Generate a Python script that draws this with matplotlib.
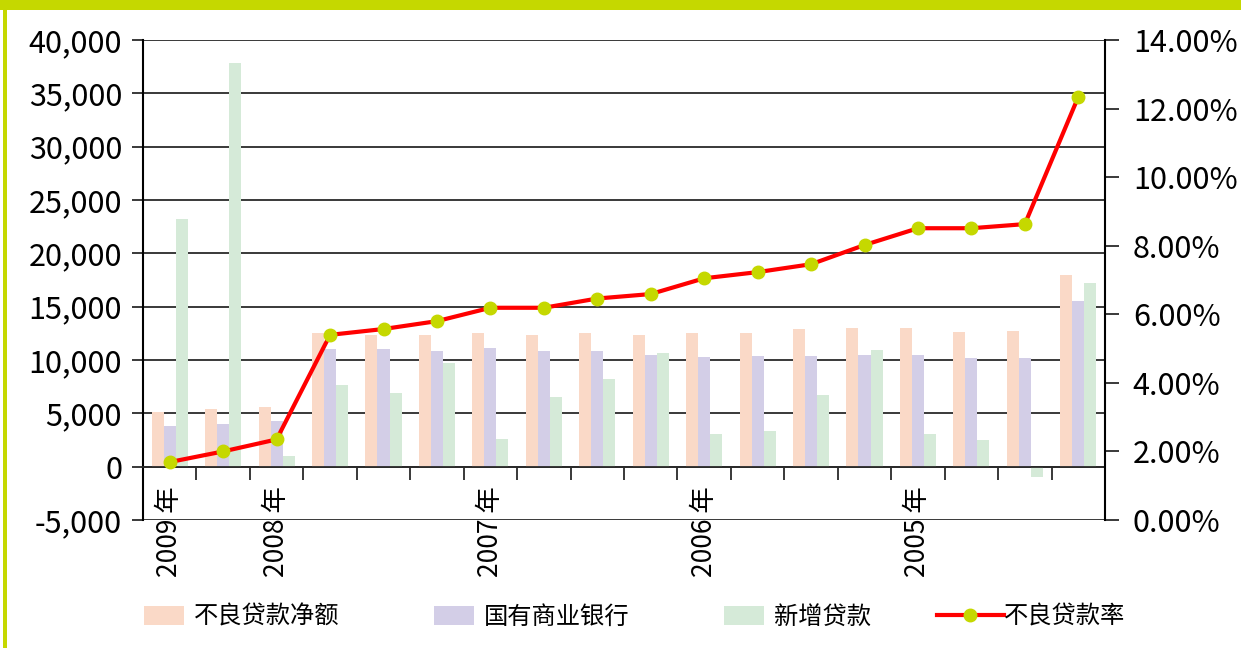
import numpy as np
import matplotlib
matplotlib.use('Agg')
import matplotlib.pyplot as plt
from matplotlib.patches import Rectangle, Patch
from matplotlib.lines import Line2D
from matplotlib.ticker import FuncFormatter, FixedLocator

plt.rcParams['font.family'] = ['Noto Sans CJK SC', 'DejaVu Sans']

# data
x_labels = ['2009 年', '', '2008 年', '', '', '', '2007 年', '', '', '',
            '2006 年', '', '', '', '2005 年', '', '', '']
net_npl = [5100, 5400, 5600, 12500, 12300, 12300, 12500, 12300, 12500,
           12300, 12500, 12500, 12900, 13000, 13000, 12600, 12700, 18000]
state_banks = [3800, 4000, 4300, 11000, 11000, 10800, 11100, 10800, 10800,
               10500, 10300, 10400, 10400, 10500, 10500, 10200, 10200, 15500]
new_loans = [23200, 37800, 1000, 7700, 6900, 9700, 2600, 6500, 8200,
             10700, 3100, 3300, 6700, 10900, 3100, 2500, -950, 17200]
npl_ratio = [1.69, 2.00, 2.35, 5.40, 5.57, 5.80, 6.19, 6.19, 6.46,
             6.59, 7.05, 7.23, 7.46, 8.02, 8.51, 8.51, 8.63, 12.34]

names = ['不良贷款净额', '国有商业银行', '新增贷款', '不良贷款率']
c_peach = '#FAD9C7'
c_purple = '#D3CEE7'
c_green = '#D5EAD8'
c_lime = '#C5D800'

fig = plt.figure(figsize=(12.41, 6.48), dpi=100)
ax = fig.add_axes([143 / 1241, 128 / 648, (1105 - 143) / 1241, (608 - 128) / 648])

x = np.arange(len(net_npl))
w = 0.225
ax.bar(x - w, net_npl, w, color=c_peach, zorder=2)
ax.bar(x, state_banks, w, color=c_purple, zorder=2)
ax.bar(x + w, new_loans, w, color=c_green, zorder=2)

ax.set_xlim(-0.5, len(x) - 0.5)
ax.set_ylim(-5000, 40000)
ax.set_yticks(np.arange(-5000, 40001, 5000))
ax.yaxis.set_major_formatter(FuncFormatter(lambda v, p: '{:,.0f}'.format(v)))
ax.grid(axis='y', color='#2a2a2a', linewidth=1.3, zorder=1)
ax.set_axisbelow(True)

ax.spines['top'].set_visible(False)
ax.spines['right'].set_visible(False)
ax.spines['left'].set_linewidth(1.5)
ax.spines['bottom'].set_position(('data', 0))
ax.spines['bottom'].set_linewidth(1.3)
ax.spines['bottom'].set_color('#2a2a2a')

# x ticks on group boundaries, labels on group centres
ax.xaxis.set_major_locator(FixedLocator(np.arange(0.5, len(x) - 1, 1)))
ax.tick_params(axis='x', which='major', direction='out', length=9.5, width=1.3,
               labelbottom=False, color='#2a2a2a')
ax.set_xticks(x, x_labels, minor=True)
ax.tick_params(axis='x', which='minor', length=0, pad=14, labelsize=19,
               labelrotation=90)
ax.tick_params(axis='y', direction='out', length=8, width=1.3, pad=7,
               labelsize=22, color='#2a2a2a')

ax2 = ax.twinx()
ax2.plot(x, npl_ratio, color='red', linewidth=3, marker='o', markersize=9,
         markerfacecolor=c_lime, markeredgecolor=c_lime, zorder=5)
ax2.set_ylim(0, 14)
ax2.set_yticks(np.arange(0, 14.1, 2))
ax2.yaxis.set_major_formatter(FuncFormatter(lambda v, p: '{:.2f}%'.format(v)))
ax2.tick_params(axis='y', direction='out', length=10, width=1.3, pad=10,
                labelsize=22, color='#2a2a2a')
for s in ['top', 'left', 'bottom']:
    ax2.spines[s].set_visible(False)
ax2.spines['right'].set_linewidth(1.5)

# legend
bar_handles = [Patch(facecolor=c_peach), Patch(facecolor=c_purple),
               Patch(facecolor=c_green)]
leg1 = fig.legend(bar_handles, names[:3], loc='center left',
                  bbox_to_anchor=(127 / 1241, 31 / 648), ncol=3, frameon=False,
                  fontsize=17.5, handlelength=1.65, handleheight=0.85,
                  handletextpad=0.4, columnspacing=3.9, borderpad=0.2)
line_handle = Line2D([], [], color='red', linewidth=3, marker='o', markersize=9,
                     markerfacecolor=c_lime, markeredgecolor=c_lime)
leg2 = fig.legend([line_handle], names[3:], loc='center left',
                  bbox_to_anchor=(920 / 1241, 31 / 648), frameon=False,
                  fontsize=17.5, handlelength=2.75, handletextpad=0.0,
                  borderpad=0.2)

# lime frame at top and left
fig.patches.append(Rectangle((0, 638 / 648), 1, 10 / 648, transform=fig.transFigure,
                             facecolor=c_lime, edgecolor='none'))
fig.patches.append(Rectangle((3 / 1241, 0), 4 / 1241, 1, transform=fig.transFigure,
                             facecolor=c_lime, edgecolor='none'))

fig.savefig('out.png', dpi=100)
